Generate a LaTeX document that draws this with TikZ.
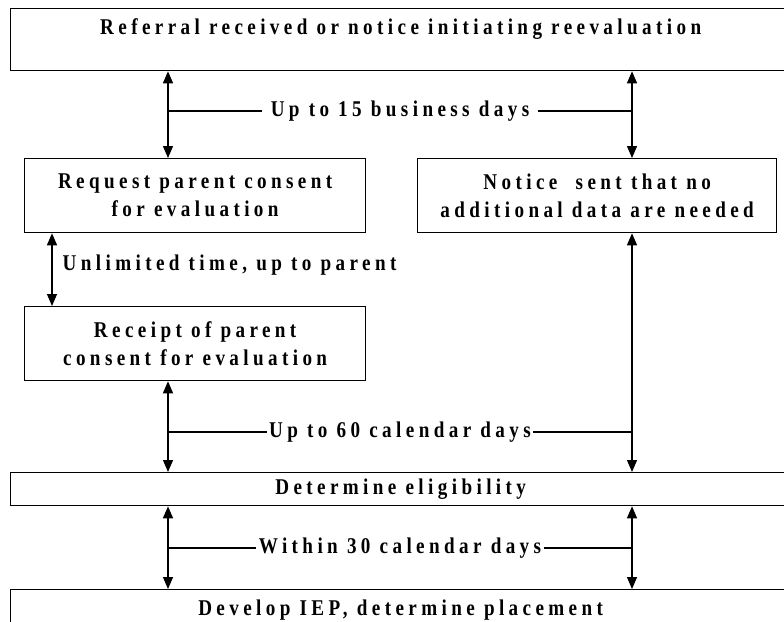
\documentclass[tikz,border=0pt]{standalone}
\usepackage{fontspec}
\setmainfont{Liberation Serif}[FakeStretch=0.85,LetterSpace=19.5]
\usepackage{tikz}
\usetikzlibrary{positioning}
\usetikzlibrary{arrows.meta}

\newcommand{\flowfont}{\fontsize{22.5}{28}\selectfont\bfseries}
\tikzset{
  stagebox/.style={draw, line width=1.3pt, inner sep=0pt, align=center, anchor=north west, font=\flowfont},
  twoway/.style={{Triangle[length=12pt,width=10pt]}-{Triangle[length=12pt,width=10pt]}},
  spanlabel/.style={fill=white, inner ysep=2pt, inner xsep=2pt, font=\flowfont},
}

\begin{document}
\begin{tikzpicture}[x=1pt,y=-1pt,line width=1.3pt]
            \clip (0,0) rectangle (784,621);
            \fill[white] (0,0) rectangle (784,621);
            % columns of the time spans
            \coordinate (colL) at (168,0);
            \coordinate (colR) at (632,0);
            \coordinate (colU) at (52,0);
            % stages
            \node[stagebox, minimum width=780pt, text height=26pt, text depth=36pt] (referral) at (10,8) {Referral received or notice initiating reevaluation};
            \node[stagebox, minimum width=341pt, minimum height=74pt] (request) at (24,158) {Request parent consent\\for evaluation};
            \node[stagebox, minimum width=359pt, minimum height=74pt] (notice) at (417,158) {Notice\ \ sent that no\\additional data are needed};
            \node[stagebox, minimum width=341pt, minimum height=74pt] (receipt) at (24,306) {Receipt of parent\\consent for evaluation};
            \node[stagebox, minimum width=780pt, minimum height=33pt] (eligible) at (10,472) {Determine eligibility};
            \node[stagebox, minimum width=780pt, text height=26pt, text depth=50pt] (iep) at (10,589) {Develop IEP, determine placement};
            % time spans
            \node[spanlabel, inner xsep=8pt] (days15) at (400,111) {Up to 15 business days};
            \node[spanlabel, anchor=west] (unlimited) at (60,265) {Unlimited time, up to parent};
            \node[spanlabel] (days60) at (400,432) {Up to 60 calendar days};
            \node[spanlabel] (days30) at (400,548) {Within 30 calendar days};
            % connectors
            \draw[twoway] (referral.south -| colL) -- (request.north -| colL);
            \draw[twoway] (referral.south -| colR) -- (notice.north -| colR);
            \draw (days15.west -| colL) -- (days15.west);
            \draw (days15.east) -- (days15.east -| colR);
            \draw[twoway] (request.south -| colU) -- (receipt.north -| colU);
            \draw[twoway] (receipt.south -| colL) -- (eligible.north -| colL);
            \draw[twoway] (notice.south -| colR) -- (eligible.north -| colR);
            \draw (days60.west -| colL) -- (days60.west);
            \draw (days60.east) -- (days60.east -| colR);
            \draw[twoway] (eligible.south -| colL) -- (iep.north -| colL);
            \draw[twoway] (eligible.south -| colR) -- (iep.north -| colR);
            \draw (days30.west -| colL) -- (days30.west);
            \draw (days30.east) -- (days30.east -| colR);
        \end{tikzpicture}
\end{document}
